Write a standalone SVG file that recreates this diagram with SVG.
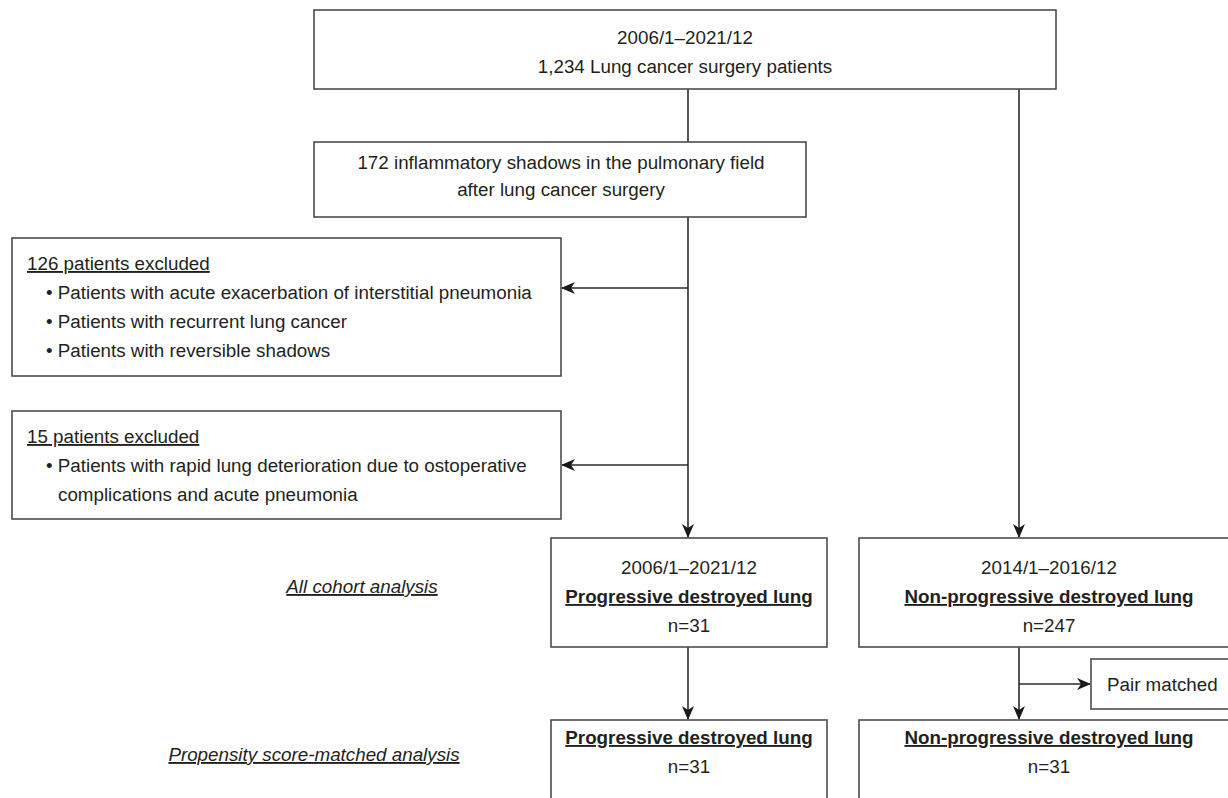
<svg xmlns="http://www.w3.org/2000/svg" width="1228" height="798" viewBox="0 0 1228 798">
<style>
.box{fill:#fff;stroke:#4d4d4d;stroke-width:1.6}
.t{font-family:"Liberation Sans",Arial,sans-serif;font-size:18.8px;fill:#231f20}
.c{text-anchor:middle}
.b{font-weight:bold;text-decoration:underline}
.u{text-decoration:underline}
.i{font-style:italic;text-decoration:underline}
.ln{stroke:#2b2b2b;stroke-width:1.6;fill:none}
</style>
<defs>
<marker id="ah" viewBox="0 0 14 12" refX="13" refY="6" markerWidth="14" markerHeight="12" markerUnits="userSpaceOnUse" orient="auto">
<path d="M0,0 L14,6 L0,12 L4,6 Z" fill="#1a1a1a"/>
</marker>
</defs>
<rect width="1228" height="798" fill="#fff"/>
<g id="connectors">
<line class="ln" x1="688" y1="89" x2="688" y2="142"/>
<line class="ln" x1="1019" y1="89" x2="1019" y2="537" marker-end="url(#ah)"/>
<line class="ln" x1="688" y1="217" x2="688" y2="537" marker-end="url(#ah)"/>
<line class="ln" x1="688" y1="288" x2="562" y2="288" marker-end="url(#ah)"/>
<line class="ln" x1="688" y1="465" x2="562" y2="465" marker-end="url(#ah)"/>
<line class="ln" x1="688" y1="647" x2="688" y2="719" marker-end="url(#ah)"/>
<line class="ln" x1="1019" y1="647" x2="1019" y2="719" marker-end="url(#ah)"/>
<line class="ln" x1="1019" y1="684" x2="1090" y2="684" marker-end="url(#ah)"/>
</g>
<g id="top">
<rect class="box" x="314" y="10" width="742" height="79"/>
<text class="t c" x="685" y="44">2006/1–2021/12</text>
<text class="t c" x="685" y="73">1,234 Lung cancer surgery patients</text>
</g>
<g id="shadows">
<rect class="box" x="314" y="142" width="492" height="75"/>
<text class="t c" x="561" y="169">172 inflammatory shadows in the pulmonary field</text>
<text class="t c" x="561" y="196">after lung cancer surgery</text>
</g>
<g id="excl1">
<rect class="box" x="12" y="238" width="549" height="138"/>
<text class="t u" x="27" y="270">126 patients excluded</text>
<text class="t" x="46" y="299">• Patients with acute exacerbation of interstitial pneumonia</text>
<text class="t" x="46" y="328">• Patients with recurrent lung cancer</text>
<text class="t" x="46" y="357">• Patients with reversible shadows</text>
</g>
<g id="excl2">
<rect class="box" x="12" y="411" width="549" height="108"/>
<text class="t u" x="27" y="443">15 patients excluded</text>
<text class="t" x="46" y="472">• Patients with rapid lung deterioration due to ostoperative</text>
<text class="t" x="58" y="501">complications and acute pneumonia</text>
</g>
<g id="label-all">
<text class="t i c" x="362" y="593">All cohort analysis</text>
</g>
<g id="label-psm">
<text class="t i c" x="314" y="761">Propensity score-matched analysis</text>
</g>
<g id="pdl-all">
<rect class="box" x="551" y="538" width="276" height="109"/>
<text class="t c" x="689" y="574">2006/1–2021/12</text>
<text class="t c b" x="689" y="603">Progressive destroyed lung</text>
<text class="t c" x="689" y="632">n=31</text>
</g>
<g id="npdl-all">
<rect class="box" x="859" y="538" width="380" height="109"/>
<text class="t c" x="1049" y="574">2014/1–2016/12</text>
<text class="t c b" x="1049" y="603">Non-progressive destroyed lung </text>
<text class="t c" x="1049" y="632">n=247</text>
</g>
<g id="pair">
<rect class="box" x="1091" y="659" width="150" height="50"/>
<text class="t" x="1107" y="691">Pair matched</text>
</g>
<g id="pdl-psm">
<rect class="box" x="551" y="720" width="276" height="100"/>
<text class="t c b" x="689" y="744">Progressive destroyed lung</text>
<text class="t c" x="689" y="773">n=31</text>
</g>
<g id="npdl-psm">
<rect class="box" x="859" y="720" width="380" height="100"/>
<text class="t c b" x="1049" y="744">Non-progressive destroyed lung </text>
<text class="t c" x="1049" y="773">n=31</text>
</g>
</svg>
